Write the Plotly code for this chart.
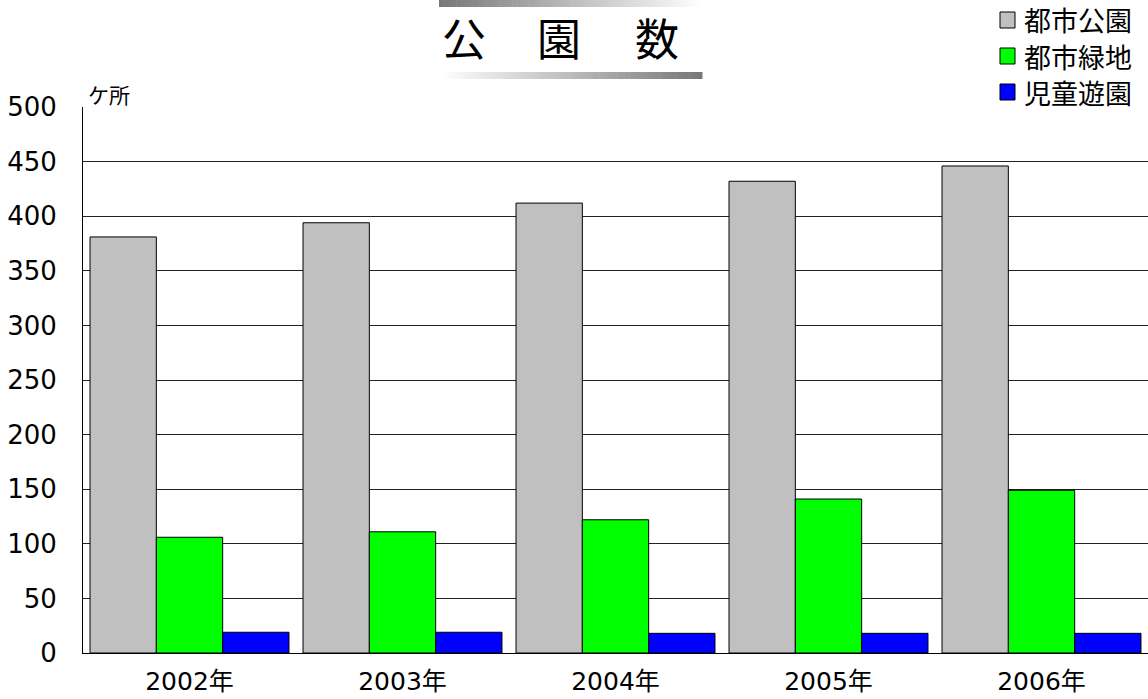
import plotly.graph_objects as go

years = ["2002年", "2003年", "2004年", "2005年", "2006年"]
series_names = ["都市公園", "都市緑地", "児童遊園"]
toshi_koen = [381, 394, 412, 432, 446]
toshi_ryokuchi = [106, 111, 122, 141, 149]
jido_yuen = [19, 19, 18, 18, 18]
colors = ["#C0C0C0", "#00FF00", "#0000FF"]
y_ticks = list(range(0, 501, 50))

W, H = 1148, 699
L, R, T, B = 83, 0, 107, 46
PW, PH = W - L - R, H - T - B

def px(x):
    return (x - L) / PW

def py(y):
    return (H - B - y) / PH

FONT = "Noto Sans CJK JP"
NUMFONT = "DejaVu Sans, Noto Sans CJK JP"

fig = go.Figure()
for name, vals, col in zip(series_names, [toshi_koen, toshi_ryokuchi, jido_yuen], colors):
    fig.add_trace(go.Bar(x=years, y=vals, name=name, marker=dict(color=col, line=dict(color="#000000", width=1)),
                         showlegend=False))

shapes = []
annotations = []

# gradient bars around the title
n = 60
x0, x1 = 439, 697
for i in range(n):
    xa = x0 + (x1 - x0) * i / n
    xb = x0 + (x1 - x0) * (i + 1) / n + 0.5
    t = i / (n - 1)
    g = int(120 + (252 - 120) * t)
    shapes.append(dict(type="rect", xref="paper", yref="paper", x0=px(xa), x1=px(xb), y0=py(7), y1=py(0),
                       fillcolor=f"rgb({g},{g},{g})", line=dict(width=0), layer="above"))
x0, x1 = 445, 702
for i in range(n):
    xa = x0 + (x1 - x0) * i / n
    xb = x0 + (x1 - x0) * (i + 1) / n + 0.5
    t = i / (n - 1)
    g = int(252 - (252 - 120) * t)
    shapes.append(dict(type="rect", xref="paper", yref="paper", x0=px(xa), x1=px(xb), y0=py(79), y1=py(72),
                       fillcolor=f"rgb({g},{g},{g})", line=dict(width=0), layer="above"))

# title characters
for ch, cx in zip("公園数", [464, 559, 657]):
    annotations.append(dict(text=ch, xref="paper", yref="paper", x=px(cx), y=py(37), xanchor="center",
                            yanchor="middle", showarrow=False, font=dict(size=44, color="#000000", family=FONT)))

# legend (manual)
for i, (name, col) in enumerate(zip(series_names, colors)):
    cy = 20 + i * 36
    shapes.append(dict(type="rect", xref="paper", yref="paper", x0=px(1000), x1=px(1015), y0=py(cy + 8),
                       y1=py(cy - 8), fillcolor=col, line=dict(color="#000000", width=1)))
    annotations.append(dict(text=name, xref="paper", yref="paper", x=px(1022), y=py(cy), xanchor="left",
                            yanchor="middle", showarrow=False, font=dict(size=27, color="#000000", family=FONT)))

# unit label
annotations.append(dict(text="ケ所", xref="paper", yref="paper", x=px(86), y=py(94), xanchor="left",
                        yanchor="middle", showarrow=False, font=dict(size=21, color="#000000", family=FONT)))

fig.update_layout(
    width=W, height=H,
    margin=dict(l=L, r=R, t=T, b=B, autoexpand=False),
    paper_bgcolor="white", plot_bgcolor="white",
    barmode="group", bargap=0.066, bargroupgap=0,
    shapes=shapes, annotations=annotations,
    font=dict(family=FONT, color="#000000"),
)
fig.update_xaxes(showline=True, linecolor="#000000", linewidth=1, showgrid=False, ticks="",
                 tickfont=dict(size=25, family=NUMFONT, color="#000000"), ticklabelstandoff=6)
fig.update_yaxes(range=[0, 500], tickvals=y_ticks, showline=True, linecolor="#000000", linewidth=1,
                 showgrid=True, gridcolor="#222222", gridwidth=1, zeroline=False, ticks="",
                 tickfont=dict(size=26, family=NUMFONT, color="#000000"), ticklabelstandoff=20)

fig.write_html("out.html", config={"displayModeBar": False},
               post_script="document.body.style.margin='0';document.body.style.padding='0';")
